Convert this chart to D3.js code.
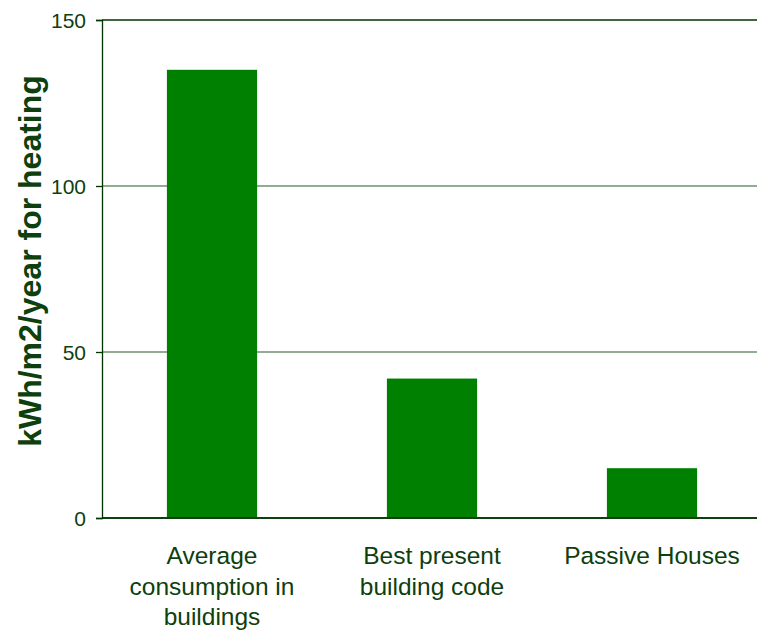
<!DOCTYPE html>
<html><head><meta charset="utf-8">
<script src="https://cdn.jsdelivr.net/npm/d3@7"></script>
<style>body{margin:0;background:#fff}</style>
</head><body>
<svg id="c" width="757" height="634"></svg>
<script>
const categories = [["Average","consumption in","buildings"],["Best present","building code"],["Passive Houses"]];
const values = [135, 42, 15];
const yTicks = [0, 50, 100, 150];
const yTitle = "kWh/m2/year for heating";

(function() {
const svg = d3.select("#c");
const mLeft = 102, mRight = 762, mTop = 20, mBottom = 518;
const textColor = "#0d400d";
const x = d3.scaleBand().domain(d3.range(categories.length)).range([mLeft, mRight]).paddingInner(0.59).paddingOuter(0.295);
const y = d3.scaleLinear().domain([0, 150]).range([mBottom, mTop]);

svg.append("g").selectAll("line").data(yTicks).join("line")
  .attr("x1", mLeft).attr("x2", 757)
  .attr("y1", d => y(d)).attr("y2", d => y(d))
  .attr("stroke", d => (d === 150 || d === 0) ? "#003300" : "#6f8f6f")
  .attr("stroke-width", 1.3);

svg.append("g").selectAll("rect").data(values).join("rect")
  .attr("x", (d, i) => x(i)).attr("width", x.bandwidth())
  .attr("y", d => y(d)).attr("height", d => y(0) - y(d))
  .attr("fill", "#008000");

const yAxis = d3.axisLeft(y).tickValues(yTicks).tickSize(6).tickPadding(10);
const ga = svg.append("g").attr("transform", `translate(${mLeft},0)`).call(yAxis);
ga.select(".domain").attr("stroke", "#003300").attr("stroke-width", 1.3);
ga.selectAll(".tick line").attr("stroke", "#003300").attr("stroke-width", 1.3);
ga.selectAll(".tick text").attr("fill", textColor).style("font-family", "Liberation Sans, Arial, sans-serif").style("font-size", "21px").attr("dy", "0.36em");

svg.append("line").attr("x1", mLeft).attr("x2", 757).attr("y1", y(0)).attr("y2", y(0)).attr("stroke", "#003300").attr("stroke-width", 1.3);

const cl = svg.append("g").selectAll("text").data(categories).join("text")
  .attr("x", (d, i) => x(i) + x.bandwidth() / 2)
  .attr("y", 564)
  .attr("text-anchor", "middle")
  .attr("fill", textColor)
  .style("font-family", "Liberation Sans, Arial, sans-serif")
  .style("font-size", "24.5px");
cl.selectAll("tspan").data(d => d).join("tspan")
  .attr("x", function() { return d3.select(this.parentNode).attr("x"); })
  .attr("dy", (d, i) => i === 0 ? 0 : 30.5)
  .text(d => d);

svg.append("text")
  .attr("transform", `translate(41,261) rotate(-90)`)
  .attr("text-anchor", "middle")
  .attr("fill", textColor)
  .style("font-family", "Liberation Sans, Arial, sans-serif")
  .style("font-weight", "bold")
  .style("font-size", "32px")
  .text(yTitle);
})();
</script>
</body></html>
